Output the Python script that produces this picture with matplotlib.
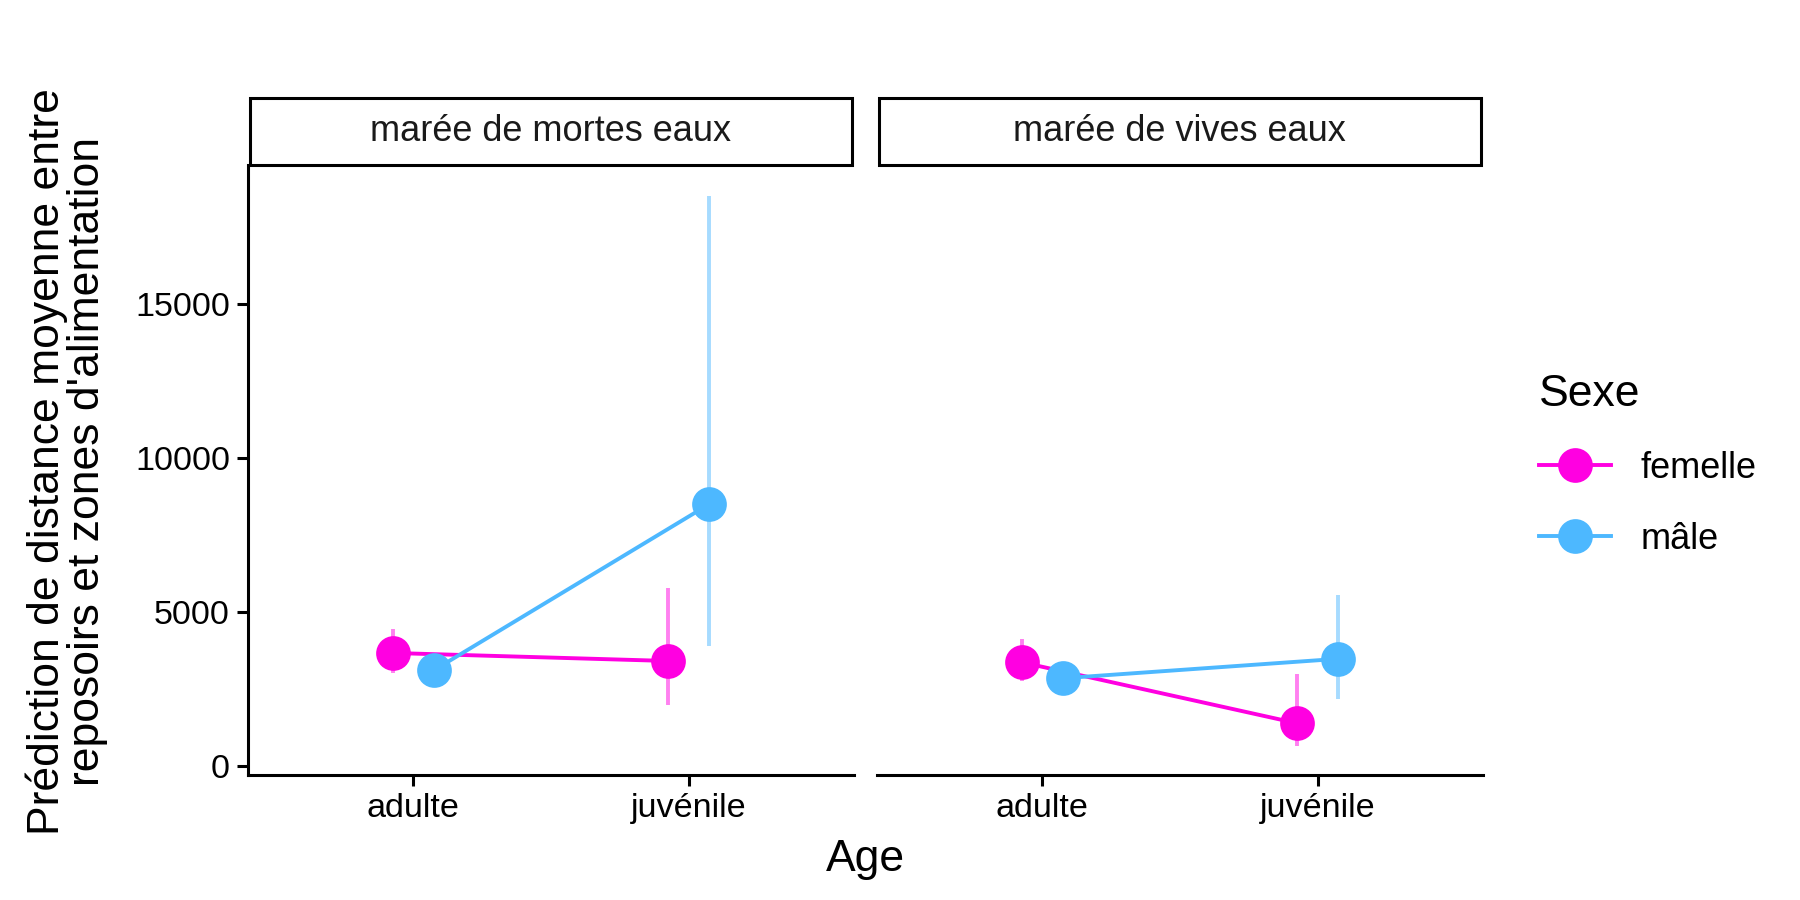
import matplotlib.pyplot as plt
from matplotlib.lines import Line2D
from matplotlib.patches import Rectangle
import numpy as np

plt.rcParams['font.family'] = ['Liberation Sans', 'DejaVu Sans']

marees = ['marée de mortes eaux', 'marée de vives eaux']
ages = ['adulte', 'juvénile']
sexes = ['femelle', 'mâle']
colors = {'femelle': '#FF00E1', 'mâle': '#4DB8FF'}
err_colors = {'femelle': '#FF80F0', 'mâle': '#A6DBFF'}

# predicted mean, lower, upper per tide, per sex, by age
pred = {
    'marée de mortes eaux': {
        'femelle': [3670, 3410],
        'mâle': [3110, 8500],
    },
    'marée de vives eaux': {
        'femelle': [3370, 1390],
        'mâle': [2850, 3480],
    },
}
low = {
    'marée de mortes eaux': {
        'femelle': [3030, 1990],
        'mâle': [2750, 3900],
    },
    'marée de vives eaux': {
        'femelle': [2770, 640],
        'mâle': [2500, 2170],
    },
}
high = {
    'marée de mortes eaux': {
        'femelle': [4460, 5770],
        'mâle': [3500, 18500],
    },
    'marée de vives eaux': {
        'femelle': [4120, 3000],
        'mâle': [3250, 5540],
    },
}

fig = plt.figure(figsize=(9, 4.5), dpi=200)
panel_x = [0.1378, 0.4872]
panel_w = 0.3366
bottom, top = 0.1385, 0.8167
strip_h = 0.0744
dodge = {'femelle': -0.075, 'mâle': 0.075}

axes = []
for i, m in enumerate(marees):
    ax = fig.add_axes([panel_x[i], bottom, panel_w, top - bottom])
    axes.append(ax)
    x = np.arange(1, len(ages) + 1)
    for s in sexes:
        xs = x + dodge[s]
        ax.vlines(xs, low[m][s], high[m][s], color=err_colors[s], lw=1.4, zorder=2)
        ax.plot(xs, pred[m][s], color=colors[s], lw=1.4, zorder=3)
        ax.plot(xs, pred[m][s], 'o', color=colors[s], ms=12.5, mec='none', zorder=4)
    ax.set_xlim(0.4, 2.6)
    ax.set_ylim(-300, 19500)
    ax.set_xticks(x)
    ax.set_xticklabels(ages)
    ax.set_yticks([0, 5000, 10000, 15000])
    ax.tick_params(axis='both', width=1.1, length=4, color='black', labelsize=12.3, pad=2.5)
    for sp in ['top', 'right']:
        ax.spines[sp].set_visible(False)
    ax.spines['bottom'].set_linewidth(1.1)
    ax.spines['left'].set_linewidth(1.1)
    if i == 1:
        ax.spines['left'].set_visible(False)
        ax.tick_params(axis='y', left=False, labelleft=False)
    # strip
    fig.patches.append(Rectangle((panel_x[i] + 0.001, top), panel_w - 0.002, strip_h,
                                 transform=fig.transFigure, facecolor='white',
                                 edgecolor='black', lw=1.1))
    fig.text(panel_x[i] + panel_w / 2, top + strip_h / 2, m, ha='center', va='center',
             fontsize=13, color='#1a1a1a')

fig.text((panel_x[0] + panel_x[1] + panel_w) / 2, 0.045, 'Age', ha='center', va='center', fontsize=16)
fig.text(0.037, 0.487, "Prédiction de distance moyenne entre\nreposoirs et zones d'alimentation",
         rotation=90, ha='center', va='center', fontsize=16, linespacing=0.95)

handles = [Line2D([0], [0], color=colors[s], lw=1.4, marker='o', ms=12.5, mec='none') for s in sexes]
leg = fig.legend(handles, sexes, loc='upper left', bbox_to_anchor=(0.847, 0.601), frameon=False,
                 title='Sexe', title_fontsize=16, fontsize=13, handlelength=2.0,
                 labelspacing=1.0, handletextpad=0.8, borderaxespad=0)
leg._legend_box.align = 'left'

fig.savefig('out.png', dpi=200)
